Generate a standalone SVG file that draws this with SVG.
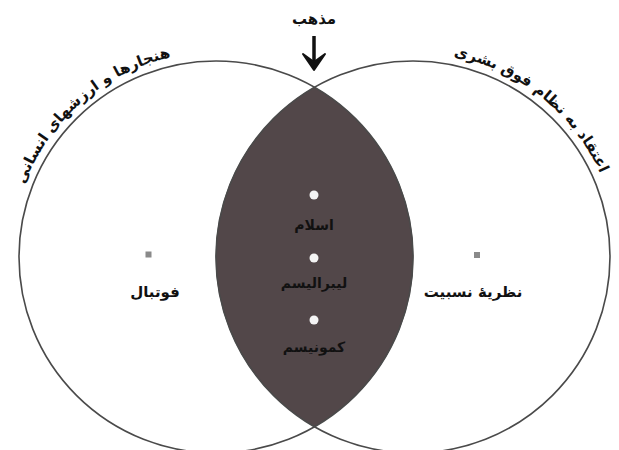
<svg xmlns="http://www.w3.org/2000/svg" width="619" height="450" viewBox="0 0 619 450">
<style>
.ring{fill:none;stroke:#4a4a4a;stroke-width:1.6}
.lbl{font-family:"DejaVu Sans",sans-serif;font-weight:bold;fill:#111;text-anchor:middle}
.arc{font-size:15px}
.mid{font-size:14px}
.side{font-size:15px}
.wdot{fill:#f4f4f4}
.gdot{fill:#8a8a8a}
</style>
<defs>
<path id="arcL" d="M14.8,296.1 A205,205 0 0 1 282.7,63.2"/>
<path id="arcR" d="M338.5,66 A205,205 0 0 1 615.6,288"/>
</defs>
<rect width="619" height="450" fill="#fff"/>
<g id="religion">
<path d="M314.5,87 A197,196 0 0 1 314.5,427 A197,196 0 0 1 314.5,87 Z" fill="#524749"/>
</g>
<g id="human-norms">
<ellipse class="ring" cx="216" cy="257" rx="197" ry="196"/>
<text class="lbl arc"><textPath href="#arcL" startOffset="50%">هنجارها و ارزشهای انسانی</textPath></text>
</g>
<g id="superhuman-order">
<ellipse class="ring" cx="413" cy="257" rx="197" ry="196"/>
<text class="lbl arc"><textPath href="#arcR" startOffset="50%">اعتقاد به نظام فوق بشری</textPath></text>
</g>
<g id="football">
<rect class="gdot" x="145.5" y="251.5" width="6" height="6"/>
<text class="lbl side" x="155" y="297">فوتبال</text>
</g>
<g id="relativity">
<rect class="gdot" x="474" y="252" width="6" height="6"/>
<text class="lbl side" x="473" y="297">نظریهٔ نسبیت</text>
</g>
<g id="islam">
<circle class="wdot" cx="314" cy="195" r="4.5"/>
<text class="lbl mid" x="314" y="230">اسلام</text>
</g>
<g id="liberalism">
<circle class="wdot" cx="314" cy="258" r="4.5"/>
<text class="lbl mid" x="314" y="288">لیبرالیسم</text>
</g>
<g id="communism">
<circle class="wdot" cx="314" cy="320" r="4.5"/>
<text class="lbl mid" x="314" y="352">کمونیسم</text>
</g>
<g id="religion-label">
<text class="lbl side" x="314" y="24">مذهب</text>
</g>
<g id="connectors">
<line x1="314" y1="36" x2="314" y2="64" stroke="#111" stroke-width="3.5"/>
<path d="M303,54 L314,70 L325,54 L314,62 Z" fill="#111" stroke="#111" stroke-width="2" stroke-linejoin="round"/>
</g>
</svg>
